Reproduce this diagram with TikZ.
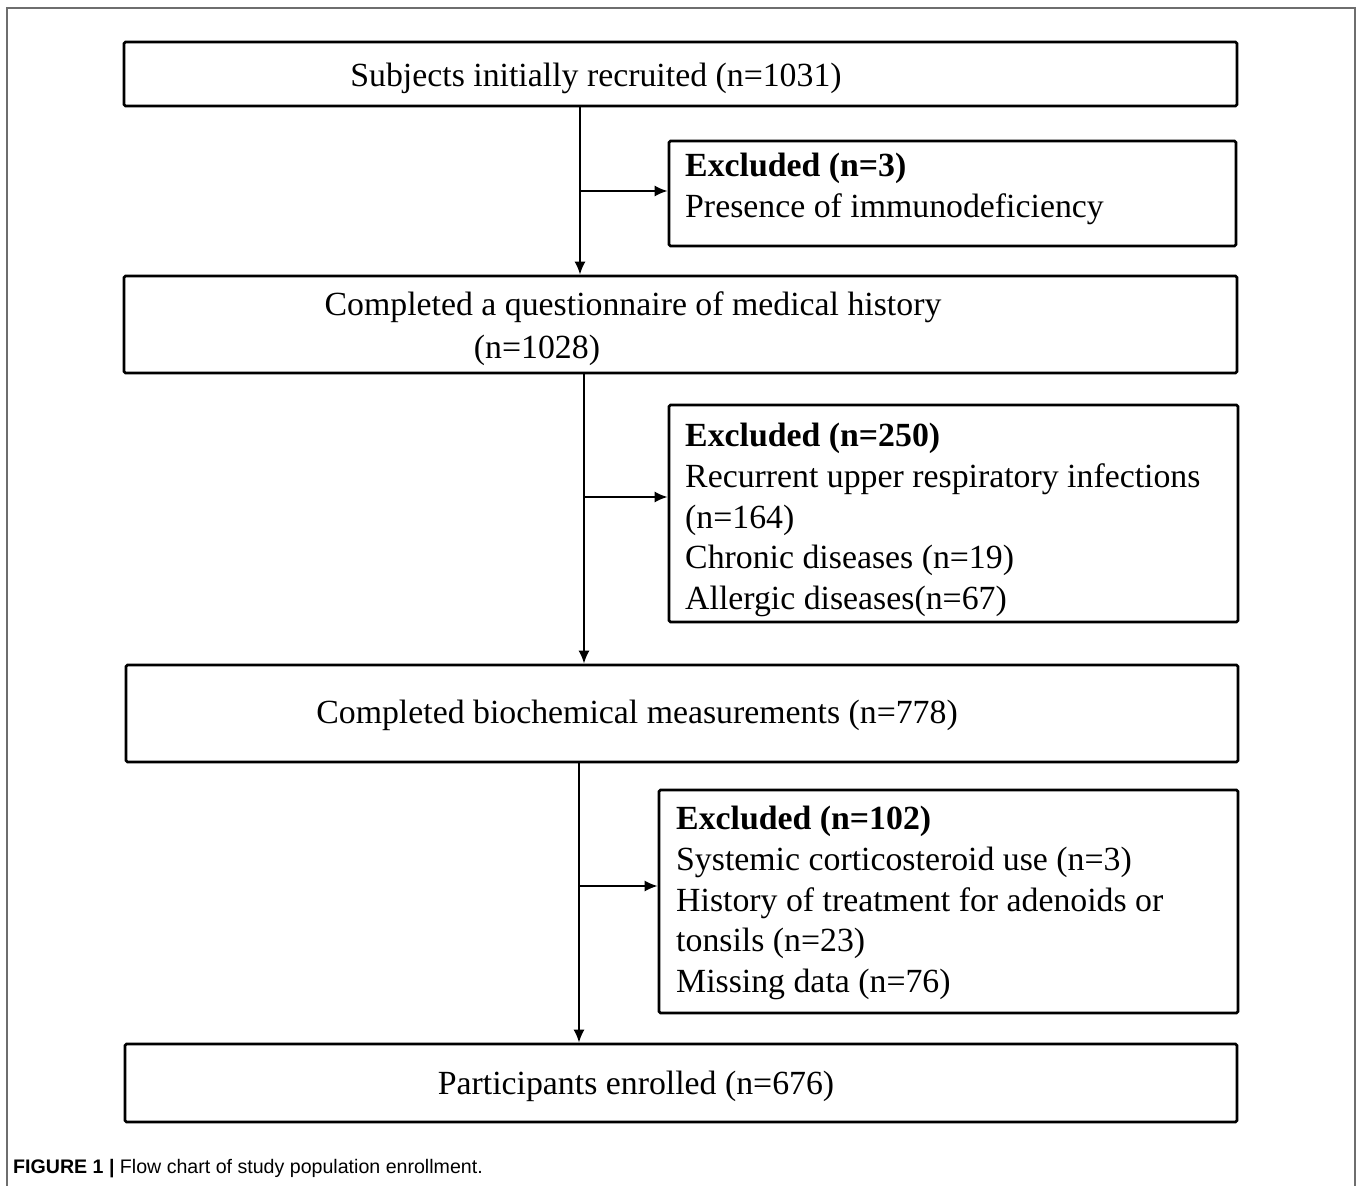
\documentclass[tikz,border=0pt]{standalone}
\usepackage{fontspec}
\setmainfont{Liberation Serif}
\newfontfamily\capfont{Liberation Sans}
\usetikzlibrary{arrows.meta}
\definecolor{framegray}{RGB}{110,110,110}
\begin{document}
\begin{tikzpicture}[x=1pt,y=-1pt,
  flowbox/.style={draw=black, line width=2.6pt, rounded corners=1.5pt, inner sep=0pt},
  txt/.style={inner sep=0pt, font=\fontsize{33.8}{40.7}\selectfont},
  listtxt/.style={txt, align=left, anchor=north west},
  conn/.style={draw=black, line width=2pt},
  arr/.style={conn, -{Latex[length=13pt,width=11pt]}}
]
\useasboundingbox[fill=white] (0,0) rectangle (1358,1186);
\draw[framegray, line width=1.3pt] (7,1186) -- (7,8) -- (1355,8) -- (1355,1186);

% main boxes
\node[flowbox, minimum width=1113pt, minimum height=64pt] (B1) at (680.5,74) {};
\node[flowbox, minimum width=1113pt, minimum height=97pt] (B2) at (680.5,324.5) {};
\node[flowbox, minimum width=1112pt, minimum height=97pt] (B3) at (682,713.5) {};
\node[flowbox, minimum width=1112pt, minimum height=78pt] (B4) at (681,1083) {};
% exclusion boxes
\node[flowbox, minimum width=567pt, minimum height=105pt] (E1) at (952.5,193.5) {};
\node[flowbox, minimum width=569pt, minimum height=217pt] (E2) at (953.5,513.5) {};
\node[flowbox, minimum width=579pt, minimum height=223pt] (E3) at (948.5,901.5) {};

% texts
\node[txt, anchor=base] (t1) at (596,86) {Subjects initially recruited (n=1031)};
\node[txt, anchor=base] (t2a) at (633,315) {Completed a questionnaire of medical history};
\node[txt, anchor=base] (t2b) at (537,358) {(n=1028)};
\node[txt, anchor=base] (t3) at (637,723) {Completed biochemical measurements (n=778)};
\node[txt, anchor=base] (t4) at (636,1094) {Participants enrolled (n=676)};

\node[listtxt] (te1) at (685,153) {\textbf{Excluded (n=3)}\\Presence of immunodeficiency};
\node[listtxt] (te2) at (685,423) {\textbf{Excluded (n=250)}\\Recurrent upper respiratory infections\\(n=164)\\Chronic diseases (n=19)\\Allergic diseases(n=67)};
\node[listtxt] (te3) at (676,806) {\textbf{Excluded (n=102)}\\Systemic corticosteroid use (n=3)\\History of treatment for adenoids or\\tonsils (n=23)\\Missing data (n=76)};

% connectors
\coordinate (j1) at (580,191);
\coordinate (j2) at (584,497);
\coordinate (j3) at (579,886);
\draw[arr] (B1.south -| j1) -- (B2.north -| j1);
\draw[arr] (j1) -- (j1 -| E1.west);
\draw[arr] (B2.south -| j2) -- (B3.north -| j2);
\draw[arr] (j2) -- (j2 -| E2.west);
\draw[arr] (B3.south -| j3) -- (B4.north -| j3);
\draw[arr] (j3) -- (j3 -| E3.west);

% caption
\node[anchor=base west, inner sep=0pt, font=\capfont\fontsize{19.6}{22}\selectfont] (cap) at (13,1173)
  {{\bfseries FIGURE 1 |} Flow chart of study population enrollment.};
\end{tikzpicture}
\end{document}
